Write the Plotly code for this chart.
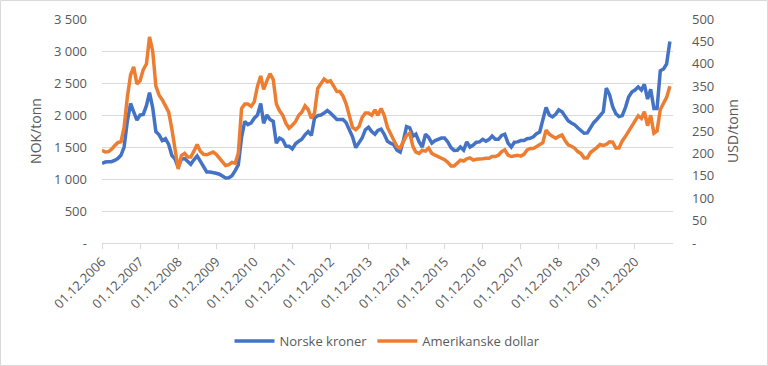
import pandas as pd
import plotly.graph_objects as go

start_month = "2006-12-01"
nok = [1245, 1265, 1270, 1270, 1290, 1320, 1370, 1500, 1900, 2180,
       2050, 1920, 2000, 2010, 2150, 2350, 2110, 1740, 1690, 1600,
       1630, 1540, 1370, 1310, 1180, 1310, 1320, 1280, 1230, 1300,
       1360, 1280, 1200, 1110, 1110, 1105, 1090, 1075, 1050, 1015,
       1020, 1050, 1130, 1220, 1650, 1900, 1850, 1875, 1950, 2000,
       2180, 1870, 2000, 1930, 1900, 1560, 1640, 1610, 1510, 1510,
       1470, 1550, 1590, 1620, 1690, 1740, 1680, 1950, 1990, 2000,
       2030, 2070, 2030, 1970, 1930, 1930, 1930, 1880, 1750, 1660,
       1490, 1560, 1640, 1770, 1810, 1740, 1700, 1760, 1780, 1700,
       1590, 1560, 1535, 1450, 1420, 1600, 1820, 1800, 1670, 1700,
       1580, 1500, 1700, 1650, 1560, 1600, 1620, 1640, 1640, 1580,
       1490, 1447, 1450, 1500, 1450, 1580, 1500, 1530, 1575, 1580,
       1620, 1590, 1620, 1670, 1620, 1620, 1680, 1700, 1560, 1500,
       1575, 1580, 1600, 1600, 1630, 1635, 1660, 1708, 1734, 1950,
       2120, 2000, 1970, 2010, 2080, 2050, 1970, 1910, 1875, 1850,
       1800, 1750, 1715, 1720, 1800, 1880, 1930, 2000, 2050, 2420,
       2320, 2130, 2020, 1975, 1990, 2120, 2280, 2360, 2390, 2440,
       2390, 2480, 2250, 2400, 2100, 2100, 2690, 2720, 2800, 3150]
usd = [207, 203, 204, 209, 217, 224, 226, 258, 325, 375,
       393, 355, 362, 387, 400, 460, 428, 350, 330, 320,
       306, 292, 255, 205, 165, 195, 200, 192, 192, 205,
       220, 205, 198, 197, 200, 203, 198, 190, 181, 173,
       175, 180, 178, 200, 300, 310, 310, 305, 315, 350,
       373, 343, 362, 378, 365, 310, 295, 285, 267, 256,
       263, 271, 285, 292, 306, 298, 278, 290, 345, 356,
       366, 360, 362, 350, 338, 338, 328, 310, 280, 258,
       253, 260, 280, 290, 290, 285, 297, 285, 300, 285,
       258, 245, 230, 215, 212, 228, 240, 245, 215, 203,
       200, 207, 205, 212, 200, 196, 193, 189, 186, 180,
       172, 172, 180, 185, 183, 188, 190, 185, 187, 187,
       188, 189, 189, 193, 193, 196, 204, 208, 196, 193,
       195, 196, 194, 198, 208, 211, 211, 215, 218, 224,
       252, 243, 238, 234, 238, 241, 228, 219, 216, 212,
       204, 200, 190, 190, 202, 207, 213, 220, 218, 220,
       226, 225, 212, 212, 228, 238, 250, 260, 272, 284,
       278, 293, 262, 285, 245, 250, 298, 310, 325, 350]

x_tick_dates = [f"{y}-12-01" for y in range(2006, 2021)]
x_tick_text = [f"01.12.{y}" for y in range(2006, 2021)]
left_ticks = [0, 500, 1000, 1500, 2000, 2500, 3000, 3500]
left_text = ["-", "500", "1 000", "1 500", "2 000", "2 500", "3 000", "3 500"]
right_ticks = [0, 50, 100, 150, 200, 250, 300, 350, 400, 450, 500]
right_text = ["-", "50", "100", "150", "200", "250", "300", "350", "400", "450", "500"]

dates = pd.date_range(start_month, periods=len(nok), freq="MS")

W, H = 768, 366
ml, mr, mt, mb = 102, 95, 19, 123
pw, ph = W - ml - mr, H - mt - mb

font = "Open Sans"
gray = "#595959"
grid = "#d9d9d9"

fig = go.Figure()
fig.add_trace(go.Scatter(x=dates, y=nok, name="Norske kroner", mode="lines",
                         line=dict(color="#4472C4", width=3.5)))
fig.add_trace(go.Scatter(x=dates, y=usd, name="Amerikanske dollar", mode="lines",
                         line=dict(color="#ED7D31", width=3.5), yaxis="y2"))

fig.update_layout(
    width=W, height=H,
    margin=dict(l=ml, r=mr, t=mt, b=mb, autoexpand=False),
    paper_bgcolor="white", plot_bgcolor="white",
    font=dict(family=font, size=12, color=gray),
    showlegend=True,
    legend=dict(orientation="h", x=0.5, xanchor="center", y=(243 - 341) / ph,
                yanchor="middle", font=dict(size=13, color=gray),
                itemwidth=40, tracegroupgap=0),
    xaxis=dict(
        type="date", range=["2006-12-01", "2021-12-01"], automargin=False,
        tickvals=x_tick_dates, ticktext=x_tick_text, tickangle=-45,
        showgrid=False, showline=True, linecolor=grid, linewidth=1,
        ticks="outside", ticklen=5, tickcolor=grid,
        tickfont=dict(size=13, color=gray), zeroline=False,
    ),
    yaxis=dict(
        range=[0, 3500], tickvals=left_ticks, ticktext=left_text, automargin=False,
        showgrid=True, gridcolor=grid, gridwidth=1, zeroline=False,
        showline=False, ticks="", ticklabelstandoff=14,
        title=dict(text="NOK/tonn", font=dict(size=14, color=gray), standoff=8),
        tickfont=dict(size=13, color=gray),
    ),
    yaxis2=dict(
        range=[0, 500], tickvals=right_ticks, ticktext=right_text, automargin=False,
        overlaying="y", side="right", showgrid=False, zeroline=False,
        showline=False, ticks="", ticklabelstandoff=18,
        title=dict(text="USD/tonn", font=dict(size=14, color=gray), standoff=14),
        tickfont=dict(size=13, color=gray),
    ),
    shapes=[dict(type="rect", xref="paper", yref="paper",
                 x0=-(ml - 0.5) / pw, x1=1 + (mr - 0.5) / pw,
                 y0=-(mb - 0.5) / ph, y1=1 + (mt - 0.5) / ph,
                 line=dict(color=grid, width=1), layer="below")],
)

fig.write_html(
    "out.html",
    config={"displayModeBar": False},
    post_script="document.body.style.margin='0';document.body.style.overflow='hidden';",
)
